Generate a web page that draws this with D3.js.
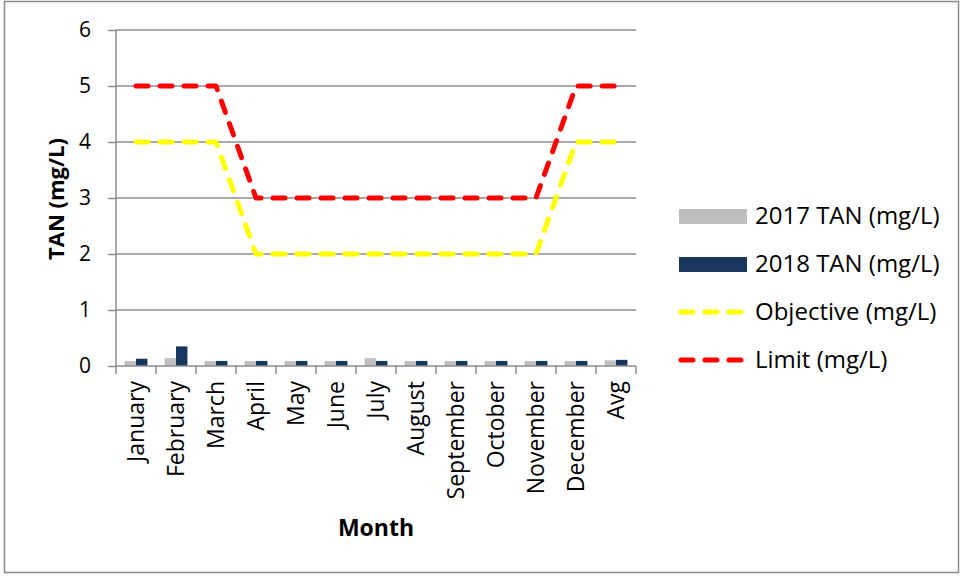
<!DOCTYPE html>
<html>
<head>
<meta charset="utf-8">
<script src="https://cdn.jsdelivr.net/npm/d3@7"></script>
<style>
  body { margin: 0; background: #fff; }
  svg { display: block; font-family: "Open Sans", sans-serif; }
</style>
</head>
<body>
<svg id="chart"></svg>
<script>
// data
const months = ["January", "February", "March", "April", "May", "June", "July",
  "August", "September", "October", "November", "December", "Avg"];
const tan2017 = [0.09, 0.14, 0.09, 0.09, 0.09, 0.09, 0.14, 0.09, 0.09, 0.09, 0.09, 0.09, 0.10];
const tan2018 = [0.13, 0.35, 0.09, 0.09, 0.09, 0.09, 0.09, 0.09, 0.09, 0.09, 0.09, 0.09, 0.11];
const objective = [4, 4, 4, 2, 2, 2, 2, 2, 2, 2, 2, 4, 4];
const limit = [5, 5, 5, 3, 3, 3, 3, 3, 3, 3, 3, 5, 5];
const yTicks = [0, 1, 2, 3, 4, 5, 6];
const legendItems = [
  { label: "2017 TAN (mg/L)", type: "bar", color: "#bfbfbf" },
  { label: "2018 TAN (mg/L)", type: "bar", color: "#17375e" },
  { label: "Objective (mg/L)", type: "line", color: "#ffff00" },
  { label: "Limit (mg/L)", type: "line", color: "#ff0000" }
];

const W = 963, H = 577;
const FONT = "'Open Sans', sans-serif";
const svg = d3.select("#chart").attr("width", W).attr("height", H);
const grid = "#8c8c8c";

// outer frame
svg.append("rect")
  .attr("x", 4.5).attr("y", 1.5)
  .attr("width", 954).attr("height", 571)
  .attr("fill", "none").attr("stroke", grid).attr("stroke-width", 1.5);

const plot = { left: 116, right: 636, top: 30, bottom: 366 };

const x = d3.scaleBand().domain(months).range([plot.left, plot.right]);
const y = d3.scaleLinear().domain([0, 6]).range([plot.bottom, plot.top]);
const barW = x.bandwidth() / 3.5;

// gridlines + y axis
const yAxis = svg.append("g")
  .attr("transform", `translate(${plot.left},0)`)
  .call(d3.axisLeft(y).tickValues(yTicks).tickFormat(d3.format("d")).tickSize(8).tickPadding(17));
yAxis.attr("font-family", FONT).attr("font-size", 21);
yAxis.select(".domain").remove();
yAxis.selectAll(".tick line").attr("stroke", grid).attr("stroke-width", 1.5);
yAxis.selectAll(".tick text").attr("fill", "#000");

svg.append("g")
  .selectAll("line")
  .data(yTicks.filter(d => d > 0))
  .enter()
  .append("line")
  .attr("x1", plot.left).attr("x2", plot.right)
  .attr("y1", d => y(d)).attr("y2", d => y(d))
  .attr("stroke", grid).attr("stroke-width", 1.5);

svg.append("line")
  .attr("x1", plot.left).attr("x2", plot.left)
  .attr("y1", plot.top).attr("y2", plot.bottom)
  .attr("stroke", grid).attr("stroke-width", 1.5);

// bars
const bars = svg.append("g");
bars.selectAll("rect.b17")
  .data(months)
  .enter()
  .append("rect")
  .attr("x", d => x(d) + x.bandwidth() / 2 - barW)
  .attr("y", (d, i) => y(tan2017[i]))
  .attr("width", barW)
  .attr("height", (d, i) => y(0) - y(tan2017[i]))
  .attr("fill", "#bfbfbf");
bars.selectAll("rect.b18")
  .data(months)
  .enter()
  .append("rect")
  .attr("x", d => x(d) + x.bandwidth() / 2)
  .attr("y", (d, i) => y(tan2018[i]))
  .attr("width", barW)
  .attr("height", (d, i) => y(0) - y(tan2018[i]))
  .attr("fill", "#17375e");

// x axis
const xAxis = svg.append("g")
  .attr("transform", `translate(0,${plot.bottom})`)
  .call(d3.axisBottom(x).tickSize(0).tickPadding(0));
xAxis.attr("font-family", FONT).attr("font-size", 23);
xAxis.select(".domain").attr("stroke", grid).attr("stroke-width", 1.5)
  .attr("d", `M${plot.left},0H${plot.right}`);
xAxis.selectAll(".tick text")
  .attr("fill", "#000")
  .attr("text-anchor", "end")
  .attr("dy", null)
  .attr("transform", "translate(8,15) rotate(-90)");

svg.append("g")
  .selectAll("line")
  .data(months.concat(["_end"]))
  .enter()
  .append("line")
  .attr("x1", (d, i) => plot.left + i * x.bandwidth())
  .attr("x2", (d, i) => plot.left + i * x.bandwidth())
  .attr("y1", plot.bottom).attr("y2", plot.bottom + 8)
  .attr("stroke", grid).attr("stroke-width", 1.5);

// threshold lines
const line = d3.line()
  .x((d, i) => x(months[i]) + x.bandwidth() / 2)
  .y(d => y(d));

[[objective, "#ffff00"], [limit, "#ff0000"]].forEach(([vals, color]) => {
  svg.append("path")
    .datum(vals)
    .attr("d", line)
    .attr("fill", "none")
    .attr("stroke", color)
    .attr("stroke-width", 5)
    .attr("stroke-linecap", "round")
    .attr("stroke-linejoin", "round")
    .attr("stroke-dasharray", "12,12");
});

// axis titles
svg.append("text")
  .attr("transform", "translate(64,199) rotate(-90)")
  .attr("text-anchor", "middle")
  .attr("font-size", 22).attr("font-weight", "bold")
  .text("TAN (mg/L)");

svg.append("text")
  .attr("x", 376).attr("y", 536)
  .attr("text-anchor", "middle")
  .attr("font-size", 23).attr("font-weight", "bold")
  .text("Month");

// legend
const legend = svg.append("g").attr("transform", "translate(679,216)");
const rows = legend.selectAll("g")
  .data(legendItems)
  .enter()
  .append("g")
  .attr("transform", (d, i) => `translate(0,${i * 48})`);

rows.filter(d => d.type === "bar")
  .append("rect")
  .attr("x", 0).attr("y", -7).attr("width", 68).attr("height", 15)
  .attr("fill", d => d.color);

rows.filter(d => d.type === "line")
  .append("line")
  .attr("x1", 2).attr("x2", 66).attr("y1", 0).attr("y2", 0)
  .attr("stroke", d => d.color)
  .attr("stroke-width", 5)
  .attr("stroke-linecap", "round")
  .attr("stroke-dasharray", "12,12");

rows.append("text")
  .attr("x", 76).attr("y", 8)
  .attr("font-size", 24)
  .text(d => d.label);
</script>
</body>
</html>
